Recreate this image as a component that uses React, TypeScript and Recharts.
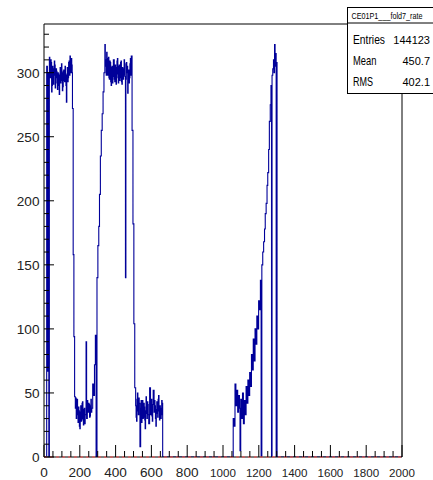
import React from 'react';
import { LineChart, Line, XAxis, YAxis, ReferenceArea, ReferenceLine } from 'recharts';

// ---- histogram content (bin start x, bin content) ----
const leadX = [0, 15, 19, 23, 27];
const leadY = [0, 305, 67, 300, 0];

const plateau1X = [30, 32.5, 35, 37.5, 40, 42.5, 45, 47.5, 50, 52.5, 55, 57.5, 60, 62.5, 65, 67.5, 70, 72.5, 75, 77.5, 80, 82.5, 85, 87.5, 90, 92.5, 95, 97.5, 100, 102.5, 105, 107.5, 110, 112.5, 115, 117.5, 120, 122.5, 125, 127.5, 130, 132.5, 135, 137.5, 140, 142.5, 145, 147.5, 150, 152.5, 155, 157.5, 159, 163, 167, 171];
const plateau1Y = [312, 300, 296, 310, 308, 285, 290, 305, 303, 291, 298, 309, 306, 288, 292, 303, 301, 296, 287, 300, 299, 290, 283, 298, 304, 292, 294, 307, 300, 286, 289, 301, 302, 294, 293, 305, 298, 290, 277, 299, 304, 293, 296, 308, 309, 298, 313, 302, 300, 311, 306, 300, 272, 158, 94, 47];

const valley1X = [175, 177.5, 180, 182.5, 185, 187.5, 190, 192.5, 195, 197.5, 200, 202.5, 205, 207.5, 210, 212.5, 215, 217.5, 220, 222.5, 225, 227.5, 230, 235, 238, 242, 244.5, 247, 249.5, 252, 254.5, 257, 259.5, 262, 264.5, 267, 272, 277, 282, 287, 291];
const valley1Y = [38, 46, 30, 40, 45, 33, 27, 39, 36, 24, 22, 35, 40, 28, 29, 42, 43, 30, 25, 37, 38, 26, 33, 90, 30, 44, 36, 35, 42, 41, 31, 32, 40, 45, 35, 38, 57, 48, 72, 95, 0];

const plateau2X = [296, 301, 306, 310, 315, 320, 325, 330, 335, 340, 342.5, 345, 347.5, 350, 352.5, 355, 357.5, 360, 362.5, 365, 367.5, 370, 372.5, 375, 377.5, 380, 382.5, 385, 387.5, 390, 392.5, 395, 397.5, 400, 402.5, 405, 407.5, 410, 412.5, 415, 417.5, 420, 422.5, 425, 427.5, 430, 432.5, 435, 437.5, 440, 442.5, 445, 447.5, 450, 452.5, 455, 457.5, 460, 462.5, 465, 467.5, 470, 472.5, 475, 477.5, 480, 482.5, 485, 487.5, 492, 497, 502, 507];
const plateau2Y = [140, 165, 180, 205, 235, 255, 268, 285, 300, 322, 305, 310, 298, 316, 303, 298, 311, 312, 296, 295, 309, 308, 293, 290, 304, 305, 292, 297, 310, 310, 295, 293, 306, 304, 291, 299, 309, 311, 296, 292, 305, 306, 294, 296, 308, 309, 293, 291, 304, 303, 295, 298, 310, 307, 297, 140, 295, 308, 300, 305, 284, 299, 302, 292, 296, 307, 311, 298, 313, 255, 182, 104, 54];

const valley2X = [512, 514.5, 517, 519.5, 522, 524.5, 527, 529.5, 532, 536, 540, 542.5, 545, 547.5, 550, 552.5, 555, 557.5, 560, 562.5, 565, 567.5, 570, 572.5, 575, 577.5, 580, 582.5, 585, 590, 595, 597.5, 600, 602.5, 605, 607.5, 610, 615, 617.5, 620, 622.5, 625, 627.5, 630, 632.5, 635, 637.5, 640, 642.5, 645, 647.5, 650, 652.5, 655, 657.5, 660, 663];
const valley2Y = [40, 31, 28, 45, 50, 36, 33, 46, 42, 8, 38, 44, 27, 35, 44, 30, 31, 42, 39, 29, 22, 36, 47, 34, 30, 43, 41, 33, 26, 54, 33, 40, 45, 32, 28, 41, 52, 35, 44, 40, 30, 24, 37, 43, 34, 31, 45, 48, 36, 29, 40, 38, 30, 33, 44, 42, 0];

const rampX = [1057, 1062, 1067, 1072, 1077, 1082, 1087, 1092, 1095, 1099, 1104, 1109, 1114, 1119, 1124, 1129, 1134, 1139, 1144, 1149, 1154, 1159, 1164, 1169, 1174, 1179, 1184, 1189, 1194, 1199, 1204, 1209, 1213, 1217, 1222, 1227, 1232, 1236, 1241, 1246, 1250, 1255, 1259, 1264, 1268, 1271, 1274, 1278, 1282, 1285, 1288, 1291, 1294, 1297, 1299, 1302, 2000];
const rampY = [30, 24, 57, 40, 52, 35, 48, 38, 5, 45, 30, 50, 26, 44, 33, 55, 42, 60, 48, 66, 55, 80, 68, 92, 75, 100, 88, 110, 100, 122, 115, 138, 0, 150, 160, 168, 178, 190, 198, 212, 222, 240, 262, 275, 290, 0, 298, 303, 310, 300, 322, 305, 315, 0, 308, 0, 0];

const xMajorLabels = [0, 200, 400, 600, 800, 1000, 1200, 1400, 1600, 1800, 2000];
const yMajorLabels = [0, 50, 100, 150, 200, 250, 300];

const histTitle = 'CE01P1___fold7_rate';
const statNames = ['Entries', 'Mean', 'RMS'];
const statValues = ['144123', '450.7', '402.1'];

const X_MAX = 2000;
const Y_MAX = 338;

const build = (xs: number[], ys: number[]) => xs.map((x, i) => ({ x, y: ys[i] }));
const data = [
  ...build(leadX, leadY),
  ...build(plateau1X, plateau1Y),
  ...build(valley1X, valley1Y),
  ...build(plateau2X, plateau2Y),
  ...build(valley2X, valley2Y),
  { x: 700, y: 0 },
  ...build(rampX, rampY),
];

const xTicks: number[] = [];
for (let v = 0; v <= X_MAX; v += 50) xTicks.push(v);
const yTicks: number[] = [];
for (let v = 0; v <= 330; v += 10) yTicks.push(v);

const FONT = '"Liberation Sans", Arial, Helvetica, sans-serif';

const XTick = (props: any) => {
  const { x, y, payload } = props;
  const v = payload.value;
  const major = xMajorLabels.includes(v);
  const label = String(v);
  return (
    <g>
      <line x1={x} x2={x} y1={y} y2={y - (major ? 12 : 6)} stroke="#000" strokeWidth={1} />
      {major && (
        <text x={x} y={y + 19.5} textAnchor="middle" fontFamily={FONT} fontSize={label.length >= 4 ? 11.6 : 13.6} fill="#222">
          {label}
        </text>
      )}
    </g>
  );
};

const YTick = (props: any) => {
  const { x, y, payload } = props;
  const v = payload.value;
  const major = yMajorLabels.includes(v);
  return (
    <g>
      <line x1={x} x2={x + (major ? 10 : 5)} y1={y} y2={y} stroke="#000" strokeWidth={1} />
      {major && (
        <text x={x - 4.5} y={y + 5} textAnchor="end" fontFamily={FONT} fontSize={13.6} fill="#222">
          {String(v)}
        </text>
      )}
    </g>
  );
};

const nameWidths = [32, 23.4, 20];

export default function App() {
  return (
    <div style={{ position: 'absolute', left: 0, top: 0, width: 433, height: 480, background: '#fff', overflow: 'hidden' }}>
      <LineChart width={433} height={480} data={data} margin={{ top: 24, right: 31, bottom: 0, left: 0 }}>
        <XAxis
          type="number"
          dataKey="x"
          domain={[0, X_MAX]}
          ticks={xTicks}
          interval={0}
          height={23}
          tickSize={0}
          tickMargin={0}
          axisLine={false}
          tickLine={false}
          tick={<XTick />}
          allowDataOverflow
        />
        <YAxis
          type="number"
          domain={[0, Y_MAX]}
          ticks={yTicks}
          interval={0}
          width={44}
          tickSize={0}
          tickMargin={0}
          axisLine={false}
          tickLine={false}
          tick={<YTick />}
          allowDataOverflow
        />
        <Line
          type="stepAfter"
          dataKey="y"
          stroke="#000099"
          strokeWidth={1.1}
          dot={false}
          activeDot={false}
          isAnimationActive={false}
        />
        <ReferenceArea x1={0} x2={X_MAX} y1={0} y2={Y_MAX} fill="none" fillOpacity={0} stroke="#000" strokeWidth={1} zIndex={900} />
        <ReferenceLine y={0} stroke="#ff5555" strokeWidth={1} strokeDasharray="3 3" zIndex={1000} />
      </LineChart>
      <svg width={433} height={480} style={{ position: 'absolute', left: 0, top: 0, pointerEvents: 'none' }}>
        <rect x={347.5} y={7.5} width={100} height={86} fill="#fff" stroke="#000" strokeWidth={1} />
        <line x1={347.5} x2={433} y1={23} y2={23} stroke="#000" strokeWidth={1} />
        <text x={351.5} y={19} fontFamily={FONT} fontSize={8.4} textLength={71} lengthAdjust="spacingAndGlyphs" fill="#000">
          {histTitle}
        </text>
        {statNames.map((n, i) => (
          <text key={n} x={353} y={44.3 + i * 20.7} fontFamily={FONT} fontSize={13} fill="#000" textLength={nameWidths[i]} lengthAdjust="spacingAndGlyphs">
            {n}
          </text>
        ))}
        {statValues.map((v, i) => (
          <text key={v} x={430} y={44.3 + i * 20.7} textAnchor="end" fontFamily={FONT} fontSize={11} fill="#000">
            {v}
          </text>
        ))}
      </svg>
    </div>
  );
}
